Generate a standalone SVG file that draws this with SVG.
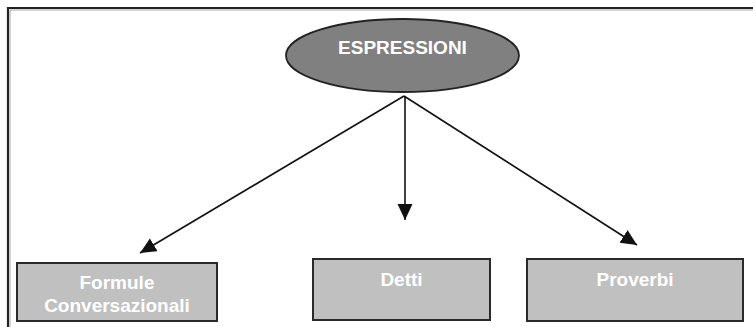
<svg xmlns="http://www.w3.org/2000/svg" width="753" height="327" viewBox="0 0 753 327">
<defs>
<marker id="arr" markerUnits="userSpaceOnUse" markerWidth="18" markerHeight="16" refX="16" refY="7.5" orient="auto">
<path d="M0,0 L16,7.5 L0,15 Z" fill="#111"/>
</marker>
</defs>
<style>
.box{fill:#c0c0c0;stroke:#2a2a2a;stroke-width:2}
.lbl{font-family:"Liberation Sans",Arial,sans-serif;font-weight:bold;font-size:19px;fill:#ffffff;text-anchor:middle}
.con{stroke:#111;stroke-width:1.6;fill:none;marker-end:url(#arr)}
</style>
<rect x="0" y="0" width="753" height="327" fill="#ffffff"/>
<path d="M8,340 L8,8 L760,8" fill="none" stroke="#222" stroke-width="2.2"/>
<path d="M10,340 L10,10 L760,10" fill="none" stroke="#aaa" stroke-width="1"/>
<g id="connectors">
<line class="con" x1="404" y1="96" x2="140" y2="253"/>
<line class="con" x1="405" y1="96" x2="405" y2="220"/>
<line class="con" x1="404" y1="96" x2="637" y2="245"/>
</g>
<g id="espressioni">
<ellipse cx="402.5" cy="55.5" rx="116.5" ry="36.5" fill="#808080" stroke="#222" stroke-width="1.8"/>
<text class="lbl" x="402.5" y="54">ESPRESSIONI</text>
</g>
<g id="formule">
<rect class="box" x="17" y="263" width="200" height="58"/>
<text class="lbl" x="117" y="289">Formule</text>
<text class="lbl" x="117" y="312">Conversazionali</text>
</g>
<g id="detti">
<rect class="box" x="313" y="259" width="177" height="61"/>
<text class="lbl" x="401.5" y="286">Detti</text>
</g>
<g id="proverbi">
<rect class="box" x="527" y="259" width="216" height="62"/>
<text class="lbl" x="635" y="286">Proverbi</text>
</g>
</svg>
